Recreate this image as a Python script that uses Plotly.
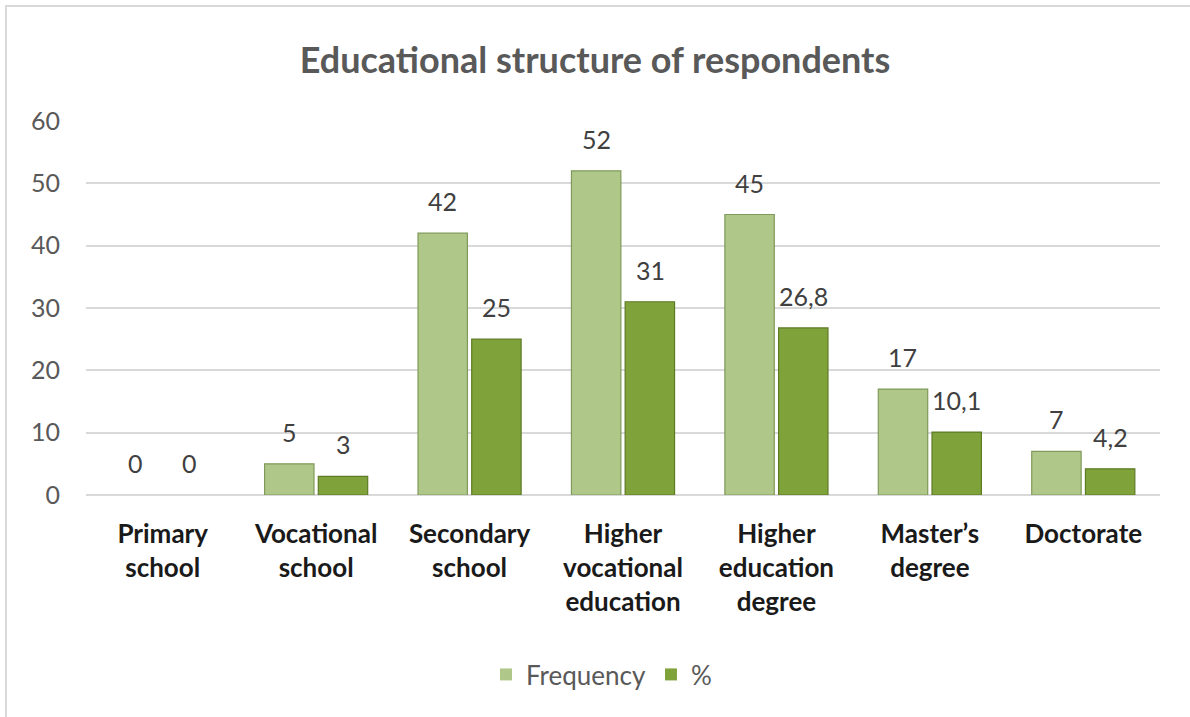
import plotly.graph_objects as go

categories = ["Primary<br>school", "Vocational<br>school", "Secondary<br>school",
              "Higher<br>vocational<br>education", "Higher<br>education<br>degree",
              "Master’s<br>degree", "Doctorate"]
frequency = [0, 5, 42, 52, 45, 17, 7]
percent = [0, 3, 25, 31, 26.8, 10.1, 4.2]


def fmt(v):
    # decimal comma like the original
    return (f"{v:g}").replace(".", ",")


FONT = "Lato, 'Open Sans', sans-serif"

fig = go.Figure()
fig.add_trace(go.Bar(
    x=categories, y=frequency, name="Frequency",
    marker=dict(color="#afc889", line=dict(color="#7f9a5a",
                                           width=[0 if v == 0 else 1.2 for v in frequency])),
))
fig.add_trace(go.Bar(
    x=categories, y=percent, name="%",
    marker=dict(color="#7fa23a", line=dict(color="#5d7a25",
                                           width=[0 if v == 0 else 1.2 for v in percent])),
))

# data labels sit higher above the bars than plotly's "outside" text, so use annotations
labels = []
for series, shift in ((frequency, -27), (percent, 27)):
    for cat, v in zip(categories, series):
        labels.append(dict(x=cat, y=v, xref="x", yref="y", text=fmt(v), showarrow=False,
                           xshift=shift, yshift=15, yanchor="bottom",
                           font=dict(size=25, color="#404040", family=FONT)))

fig.update_layout(
    width=1190, height=717,
    paper_bgcolor="white", plot_bgcolor="white",
    font=dict(family=FONT, color="#595959"),
    title=dict(text="<b>Educational structure of respondents</b>", x=0.5, xanchor="center",
               y=0.916, yanchor="middle", font=dict(size=36, color="#595959", family=FONT)),
    margin=dict(l=86, r=30, t=121, b=222),
    barmode="group", bargap=0.3, bargroupgap=0.08,
    showlegend=True,
    legend=dict(orientation="h", x=0.48, xanchor="center", y=-0.48, yanchor="middle",
                font=dict(size=26, color="#595959", family=FONT), traceorder="normal"),
    xaxis=dict(showgrid=False, showline=False, ticks="outside", ticklen=16, tickcolor="rgba(0,0,0,0)",
               tickfont=dict(size=26, color="#1a1a1a", family=FONT),
               tickprefix="<b>", ticksuffix="</b>", tickangle=0),
    yaxis=dict(range=[0, 60], dtick=10, showgrid=True, gridcolor="#d9d9d9", gridwidth=1.5,
               zeroline=True, zerolinecolor="#d9d9d9", zerolinewidth=1.5,
               ticks="outside", ticklen=20, tickcolor="rgba(0,0,0,0)",
               tickfont=dict(size=25, color="#595959", family=FONT)),
    annotations=labels,
    shapes=[dict(type="rect", xref="paper", yref="paper", x0=-0.0745, x1=1.2,
                 y0=-0.7, y1=1.3075, line=dict(color="#d9d9d9", width=2),
                 fillcolor="rgba(0,0,0,0)", layer="below")],
)

fig.write_html("out.html", config={"displayModeBar": False},
               post_script="document.body.style.margin='0';")
